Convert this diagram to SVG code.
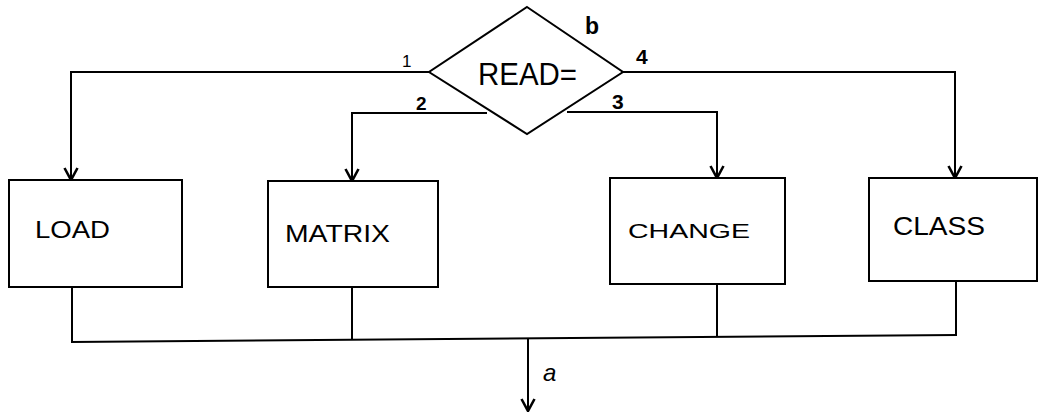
<svg xmlns="http://www.w3.org/2000/svg" width="1038" height="413" viewBox="0 0 1038 413">
<defs>
<style>
.box{fill:#fff;stroke:#000;stroke-width:2}
.ln{fill:none;stroke:#000;stroke-width:2}
.lbl{font-family:"Liberation Sans",Arial,sans-serif;fill:#000}
</style>
<marker id="arr" viewBox="0 0 14 16" refX="13" refY="8" markerWidth="14" markerHeight="16" markerUnits="userSpaceOnUse" orient="auto">
<path d="M1,1.5 L13,8 L1,14.5" fill="none" stroke="#000" stroke-width="2.6"/>
</marker>
</defs>
<rect width="1038" height="413" fill="#fff"/>
<g id="connectors">
<polyline class="ln" points="429,72 71,72 71,180" marker-end="url(#arr)"/>
<polyline class="ln" points="623,72 955,72 955,178" marker-end="url(#arr)"/>
<polyline class="ln" points="487,113 352,113 352,181" marker-end="url(#arr)"/>
<polyline class="ln" points="567,112 717,112 717,178" marker-end="url(#arr)"/>
<line class="ln" x1="72" y1="287" x2="72" y2="342"/>
<line class="ln" x1="352" y1="287" x2="352" y2="339"/>
<line class="ln" x1="717" y1="284" x2="717" y2="336"/>
<line class="ln" x1="956" y1="281" x2="956" y2="335"/>
<line class="ln" x1="71" y1="342" x2="957" y2="335"/>
<line class="ln" x1="528" y1="339" x2="528" y2="411" marker-end="url(#arr)"/>
<text class="lbl" x="543" y="381" font-size="24" font-style="italic">a</text>
<text class="lbl" x="402" y="67" font-size="17">1</text>
<text class="lbl" x="416" y="110" font-size="19" font-weight="bold">2</text>
<text class="lbl" x="612" y="109" font-size="21" font-weight="bold">3</text>
<text class="lbl" x="636" y="64" font-size="21" font-weight="bold">4</text>
<text class="lbl" x="585" y="34" font-size="23" font-weight="bold">b</text>
</g>
<g id="read">
<polygon class="box" points="527,7 623,72 527,134 429,72"/>
<text class="lbl" x="478" y="85" font-size="31" textLength="99" lengthAdjust="spacingAndGlyphs">READ=</text>
</g>
<g id="load">
<rect class="box" x="9" y="180" width="173" height="107"/>
<text class="lbl" x="35" y="238" font-size="23" textLength="75" lengthAdjust="spacingAndGlyphs">LOAD</text>
</g>
<g id="matrix">
<rect class="box" x="268" y="181" width="170" height="106"/>
<text class="lbl" x="285" y="242" font-size="23" textLength="105" lengthAdjust="spacingAndGlyphs">MATRIX</text>
</g>
<g id="change">
<rect class="box" x="610" y="178" width="175" height="106"/>
<text class="lbl" x="628" y="238" font-size="21" textLength="122" lengthAdjust="spacingAndGlyphs">CHANGE</text>
</g>
<g id="class">
<rect class="box" x="869" y="178" width="168" height="103"/>
<text class="lbl" x="893" y="235" font-size="25" textLength="92" lengthAdjust="spacingAndGlyphs">CLASS</text>
</g>
</svg>
